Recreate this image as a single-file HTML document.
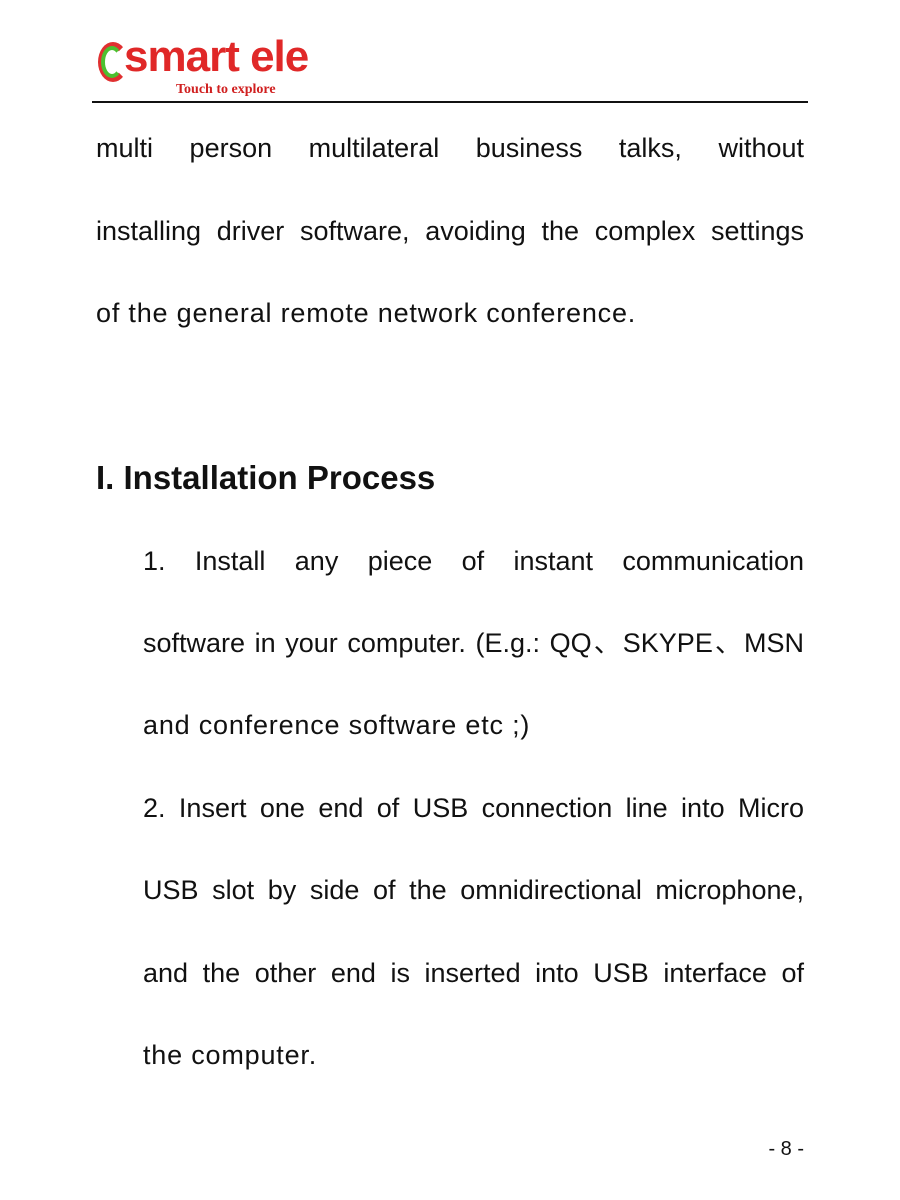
<!DOCTYPE html>
<html><head><meta charset="utf-8"><style>
body{margin:0;width:900px;height:1200px;background:#fff;position:relative;overflow:hidden;font-family:"Liberation Sans","Noto Sans CJK SC",sans-serif;color:#111}
.l{position:absolute;font-size:27px;line-height:30px;white-space:nowrap}
.n{letter-spacing:0.8px}
.j{text-align:justify;text-align-last:justify;white-space:normal}
.a{left:96px;width:708px}
.b{left:143px;width:661px}
</style></head><body>
<div style="position:absolute;left:98px;top:42px;width:30px;height:40px;border-radius:50%;border:6px solid #e03030;border-right-color:transparent;box-sizing:border-box"></div>
<div style="position:absolute;left:101px;top:46px;width:22px;height:32px;border-radius:50%;border:4px solid #4cc030;border-right-color:transparent;box-sizing:border-box"></div>
<div style="position:absolute;left:124px;top:32px;font-size:44px;font-weight:bold;color:#e02828;font-family:'Liberation Sans',sans-serif;letter-spacing:-1px">smart ele</div>
<div style="position:absolute;left:176px;top:82px;font-size:14px;font-weight:bold;color:#d02020;font-family:'Liberation Serif',serif">Touch to explore</div>
<div style="position:absolute;left:92px;top:101px;width:716px;height:2px;background:#111"></div>
<div class="l j a" style="top:133px">multi person multilateral business talks, without</div>
<div class="l j a" style="top:216px">installing driver software, avoiding the complex settings</div>
<div class="l n a" style="top:298px">of the general remote network conference.</div>
<div class="l a" style="top:460px;font-size:33px;line-height:36px;font-weight:bold">I. Installation Process</div>
<div class="l j b" style="top:546px">1. Install any piece of instant communication</div>
<div class="l j b" style="top:628px">software in your computer. (E.g.: QQ、SKYPE、MSN</div>
<div class="l n b" style="top:710px">and conference software etc ;)</div>
<div class="l j b" style="top:793px">2. Insert one end of USB connection line into Micro</div>
<div class="l j b" style="top:875px">USB slot by side of the omnidirectional microphone,</div>
<div class="l j b" style="top:958px">and the other end is inserted into USB interface of</div>
<div class="l n b" style="top:1040px">the computer.</div>
<div class="l" style="top:1137px;right:96px;font-size:20px;line-height:24px">- 8 -</div>
</body></html>
